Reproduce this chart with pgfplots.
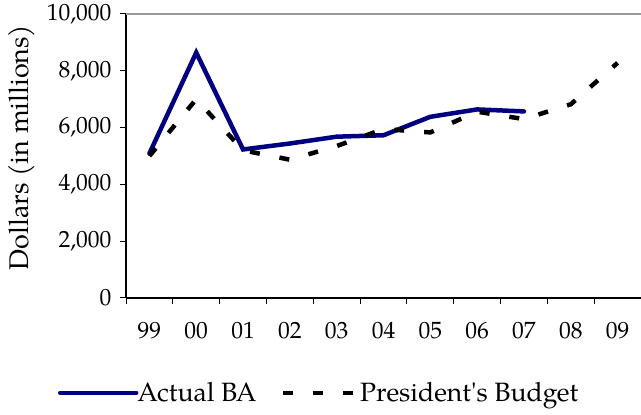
\documentclass[border=0pt]{standalone}
\usepackage{fontspec}
\setmainfont{TeX Gyre Pagella}[Ligatures=TeXOff]
\usepackage{pgfplots}
\pgfplotsset{compat=1.18}
\definecolor{navyline}{RGB}{0,0,128}
\begin{document}
\begin{tikzpicture}
\path[use as bounding box] (0,0) rectangle (641bp,415bp);
\begin{axis}[
  at={(126bp,117bp)}, anchor=south west,
  scale only axis, width=515bp, height=284bp,
  xmin=-0.5, xmax=10.5, ymin=0, ymax=10000,
  axis lines*=left,
  axis line style={black, line width=1.3bp},
  tick align=outside,
  major tick length=6bp,
  tick style={black, line width=1bp},
  xtick={-0.5,0.5,...,10.5},
  xticklabels={99,00,01,02,03,04,05,06,07,08,09},
  x tick label as interval,
  ytick={0,2000,4000,6000,8000,10000},
  scaled y ticks=false,
  /pgf/number format/1000 sep={,},
  /pgf/number format/assume math mode=true,
  ticklabel style={font=\fontsize{23.5bp}{27bp}\selectfont},
  xticklabel style={yshift=-15bp},
  yticklabel style={xshift=-5bp},
  ylabel={Dollars (in millions)},
  ylabel style={font=\fontsize{27bp}{31bp}\selectfont, at={(axis description cs:-0.202,0.53)}, anchor=center},
  legend style={draw=none, fill=none, font=\fontsize{26.5bp}{31bp}\selectfont,
    legend columns=-1, at={(axis description cs:0.375,-0.334)}, anchor=center,
    /tikz/every even column/.append style={column sep=22bp},
    /tikz/every odd column/.append style={column sep=-3bp}},
  legend image code/.code={\draw[#1] (0bp,0bp) -- (76bp,0bp);},
  clip=false,
]
\draw[black!40, line width=1.5bp] (axis cs:-0.5,10000) -- (axis cs:10.5,10000);
\addplot[navyline, line width=4.5bp, line cap=round, line join=miter] coordinates {
  (0,5090) (1,8640) (2,5230) (3,5440) (4,5680) (5,5730) (6,6380) (7,6640) (8,6570)
};
\addlegendentry{Actual BA}
\addplot[black, line width=4.5bp, line cap=butt, dash pattern=on 10bp off 20bp] coordinates {
  (0,5000) (1,7000) (2,5200) (3,4870) (4,5350) (5,5950) (6,5830) (7,6560) (8,6300) (9,6820) (10,8280)
};
\addlegendentry{President's Budget}
\end{axis}
\end{tikzpicture}
\end{document}
